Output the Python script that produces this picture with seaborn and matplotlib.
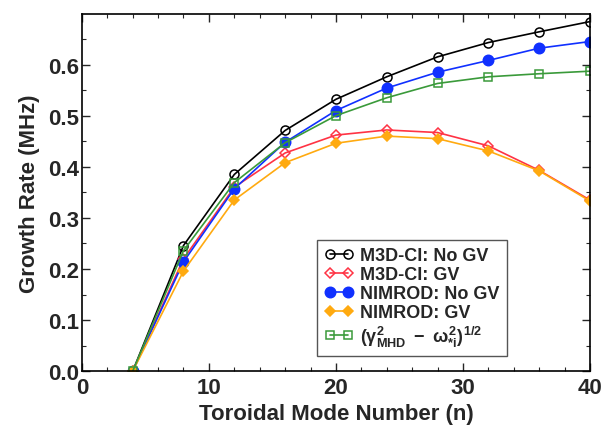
import matplotlib
matplotlib.use("Agg")
import matplotlib.pyplot as plt
from matplotlib.ticker import MultipleLocator
import seaborn as sns

# growth rate vs toroidal mode number
n = [4, 8, 12, 16, 20, 24, 28, 32, 36, 40]
m3d_nogv = [0.0, 0.246, 0.385, 0.471, 0.532, 0.576, 0.615, 0.643, 0.664, 0.684]
m3d_gv = [0.0, 0.220, 0.360, 0.427, 0.462, 0.472, 0.467, 0.441, 0.393, 0.335]
nimrod_nogv = [0.0, 0.214, 0.357, 0.448, 0.510, 0.554, 0.585, 0.608, 0.632, 0.645]
nimrod_gv = [0.0, 0.196, 0.335, 0.408, 0.446, 0.460, 0.455, 0.431, 0.392, 0.333]
estimate = [0.0, 0.236, 0.369, 0.447, 0.500, 0.535, 0.563, 0.576, 0.582, 0.587]

sns.set_theme(style="ticks")
plt.rcParams['font.family'] = ['Liberation Sans', 'DejaVu Sans']
plt.rcParams['font.weight'] = 'bold'
plt.rcParams['mathtext.fontset'] = 'custom'
plt.rcParams['mathtext.rm'] = 'Liberation Sans:bold'
plt.rcParams['mathtext.it'] = 'Liberation Sans:bold'

fig = plt.figure(figsize=(6.02, 4.39), dpi=100)
ax = fig.add_axes([0.136, 0.152, 0.844, 0.814])

series = [
    (m3d_nogv, 'M3D-CI: No GV', 'black', 'o', 'none', 6.5),
    (m3d_gv, 'M3D-CI: GV', '#ff3344', 'D', 'none', 5.0),
    (nimrod_nogv, 'NIMROD: No GV', '#1030ff', 'o', '#1030ff', 7.5),
    (nimrod_gv, 'NIMROD: GV', '#ffaa10', 'D', '#ffaa10', 5.5),
    (estimate, r'$(\gamma^2_{MHD}\ -\ \omega^2_{*i})^{1/2}$', '#3a9a3a', 's', 'none', 5.5),
]

for vals, label, color, marker, face, ms in series:
    sns.lineplot(x=n, y=vals, ax=ax, color=color, marker=marker, markersize=ms,
                 markerfacecolor=face, markeredgecolor=color, markeredgewidth=1.1,
                 linewidth=1.2, label=label)

ax.set_xlim(0, 40)
ax.set_ylim(0, 0.699)
ax.xaxis.set_major_locator(MultipleLocator(10))
ax.xaxis.set_minor_locator(MultipleLocator(2))
ax.yaxis.set_major_locator(MultipleLocator(0.1))
ax.yaxis.set_minor_locator(MultipleLocator(0.05))
ax.tick_params(which='both', direction='in', top=True, right=True, labelsize=16)
ax.tick_params(axis='y', pad=2)
ax.tick_params(axis='x', pad=4)
ax.tick_params(which='major', length=6, width=1)
ax.tick_params(which='minor', length=3, width=0.8)
for side in ax.spines.values():
    side.set_linewidth(1.2)
    side.set_color('black')

ax.set_xlabel('Toroidal Mode Number (n)', fontsize=16, fontweight='bold', labelpad=4)
ax.set_ylabel('Growth Rate (MHz)', fontsize=16, fontweight='bold', labelpad=6)

leg = ax.legend(loc='lower left', bbox_to_anchor=(0.445, 0.018), numpoints=2,
                fontsize=13, handlelength=1.6, handletextpad=0.4, labelspacing=0.12,
                borderpad=0.4, fancybox=False, framealpha=1)
leg.get_frame().set_edgecolor('#555555')
leg.get_frame().set_linewidth(1.0)

fig.savefig('out.png', dpi=100)
